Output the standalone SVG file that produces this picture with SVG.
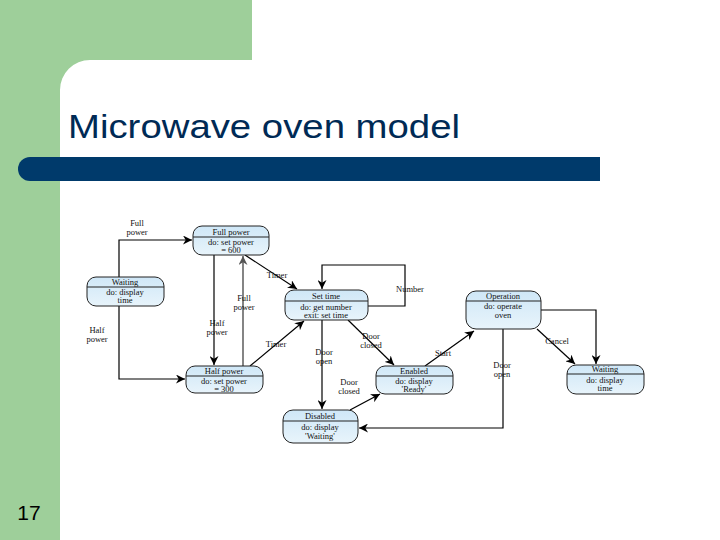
<svg xmlns="http://www.w3.org/2000/svg" width="720" height="540" viewBox="0 0 720 540">
<defs>
<marker id="ah" viewBox="0 0 10 10" refX="10" refY="5" markerWidth="9" markerHeight="9" markerUnits="userSpaceOnUse" orient="auto"><path d="M0,0 L10,5 L0,10 L3,5 Z" fill="#000"/></marker>
<marker id="ahg" viewBox="0 0 10 10" refX="10" refY="5" markerWidth="9" markerHeight="9" markerUnits="userSpaceOnUse" orient="auto"><path d="M0,0 L10,5 L0,10 L3,5 Z" fill="#555"/></marker>
<linearGradient id="g" x1="0" y1="0" x2="0" y2="1"><stop offset="0" stop-color="#cfe7f7"/><stop offset="1" stop-color="#e8f4fb"/></linearGradient>
</defs>
<style>
.n rect{fill:url(#g);stroke:#222;stroke-width:1}
.n line{stroke:#222;stroke-width:1}
text{font-family:"Liberation Serif",serif;font-size:8.5px;fill:#111}
.c{text-anchor:middle}
.e path,.e line,.e polyline{fill:none;stroke:#000;stroke-width:1.2;marker-end:url(#ah)}
</style>
<rect width="720" height="540" fill="#fff"/>
<path d="M0,0 H252 V60 H90 A30,30 0 0 0 60,90 V540 H0 Z" fill="#9ecf9a"/>
<path d="M30,157 H600 V181 H30 A12,12 0 0 1 30,157 Z" fill="#003a6b"/>
<text x="68" y="138" textLength="392" lengthAdjust="spacingAndGlyphs" style="font-family:'Liberation Sans',sans-serif;font-size:34px;fill:#002a55">Microwave oven model</text>
<text x="29" y="520" class="c" style="font-family:'Liberation Sans',sans-serif;font-size:21px;fill:#000">17</text>

<g id="connectors" class="e">
<polyline points="119,286 119,240 192,240"/>
<polyline points="119,306 119,379 185,379"/>
<line x1="214" y1="255" x2="214" y2="365"/>
<line x1="243" y1="366" x2="243" y2="256" style="stroke:#666;stroke-width:1.6;marker-end:url(#ahg)"/>
<line x1="245" y1="255" x2="297" y2="289"/>
<line x1="250" y1="366" x2="304" y2="321"/>
<polyline points="368,306 405,306 405,265 322,265 322,289"/>
<line x1="322" y1="320" x2="322" y2="409"/>
<line x1="348" y1="320" x2="394" y2="365"/>
<line x1="350" y1="410" x2="380" y2="394"/>
<line x1="425" y1="366" x2="474" y2="331"/>
<polyline points="503,329 503,428 359,428"/>
<polyline points="541,310 596,310 596,364"/>
<line x1="537" y1="329" x2="575" y2="364"/>
</g>
<g id="labels">
<text x="137" y="226" class="c">Full</text><text x="137" y="235" class="c">power</text>
<text x="97" y="333" class="c">Half</text><text x="97" y="342" class="c">power</text>
<text x="217" y="326" class="c">Half</text><text x="217" y="335" class="c">power</text>
<text x="244" y="301" class="c">Full</text><text x="244" y="310" class="c">power</text>
<text x="277" y="278" class="c">Timer</text>
<text x="276" y="347" class="c">Timer</text>
<text x="410" y="292" class="c">Number</text>
<text x="324" y="355" class="c">Door</text><text x="324" y="364" class="c">open</text>
<text x="371" y="339" class="c">Door</text><text x="371" y="348" class="c">closed</text>
<text x="349" y="385" class="c">Door</text><text x="349" y="394" class="c">closed</text>
<text x="443" y="356" class="c">Start</text>
<text x="502" y="368" class="c">Door</text><text x="502" y="377" class="c">open</text>
<text x="557" y="344" class="c">Cancel</text>
</g>

<g id="fullpower" class="n"><rect x="193" y="226" width="76" height="29" rx="9"/><line x1="193" y1="237" x2="269" y2="237"/><text x="231" y="235" class="c">Full power</text><text x="231" y="245" class="c">do: set power</text><text x="231" y="253" class="c">= 600</text></g>
<g id="waiting1" class="n"><rect x="87" y="277" width="77" height="29" rx="9"/><line x1="87" y1="287" x2="164" y2="287"/><text x="125" y="285" class="c">Waiting</text><text x="125" y="295" class="c">do: display</text><text x="125" y="303" class="c">time</text></g>
<g id="settime" class="n"><rect x="285" y="290" width="83" height="30" rx="9"/><line x1="285" y1="301" x2="368" y2="301"/><text x="326" y="299" class="c">Set time</text><text x="326" y="310" class="c">do: get number</text><text x="326" y="318" class="c">exit: set time</text></g>
<g id="operation" class="n"><rect x="466" y="291" width="75" height="38" rx="10"/><line x1="466" y1="301" x2="541" y2="301"/><text x="503" y="299" class="c">Operation</text><text x="503" y="309" class="c">do: operate</text><text x="503" y="318" class="c">oven</text></g>
<g id="halfpower" class="n"><rect x="186" y="366" width="77" height="27" rx="9"/><line x1="186" y1="376" x2="263" y2="376"/><text x="224" y="374" class="c">Half power</text><text x="224" y="384" class="c">do: set power</text><text x="224" y="392" class="c">= 300</text></g>
<g id="enabled" class="n"><rect x="376" y="366" width="77" height="28" rx="9"/><line x1="376" y1="376" x2="453" y2="376"/><text x="414" y="374" class="c">Enabled</text><text x="414" y="384" class="c">do: display</text><text x="414" y="392" class="c">'Ready'</text></g>
<g id="waiting2" class="n"><rect x="567" y="365" width="77" height="29" rx="9"/><line x1="567" y1="374" x2="644" y2="374"/><text x="605" y="372" class="c">Waiting</text><text x="605" y="383" class="c">do: display</text><text x="605" y="391" class="c">time</text></g>
<g id="disabled" class="n"><rect x="283" y="410" width="75" height="33" rx="10"/><line x1="283" y1="421" x2="358" y2="421"/><text x="320" y="419" class="c">Disabled</text><text x="320" y="430" class="c">do: display</text><text x="320" y="439" class="c">'Waiting'</text></g>
</svg>
